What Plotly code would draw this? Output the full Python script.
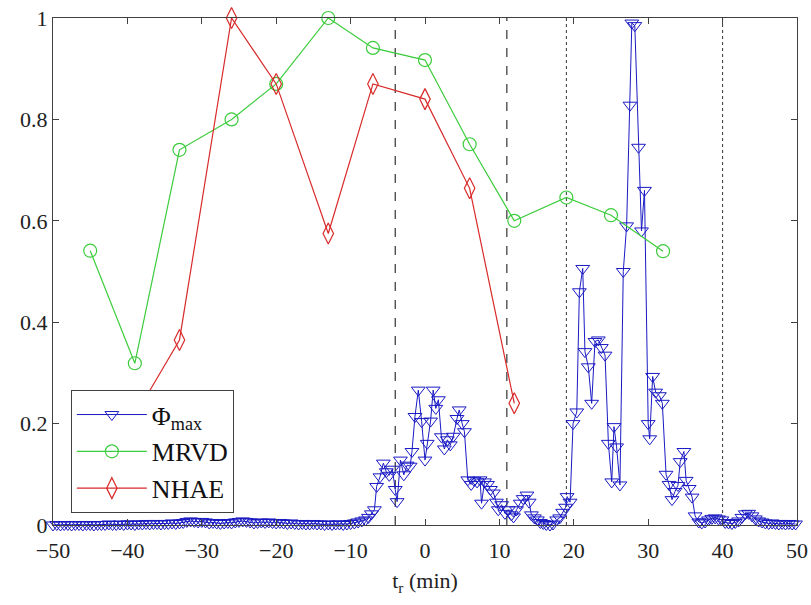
import numpy as np
import plotly.graph_objects as go

# ---------------- data ----------------
# Phi_max : uniform 0.5-min grid in the quiet lead-in, then read points
t_phi_left = np.arange(-50, -8.25, 0.5)
phi_left = [
    0.000, 0.001, 0.000, 0.001, 0.001, 0.000, 0.001, 0.001, 0.000, 0.001,
    0.001, 0.000, 0.001, 0.001, 0.001, 0.002, 0.001, 0.001, 0.002, 0.001,
    0.002, 0.002, 0.001, 0.002, 0.002, 0.003, 0.002, 0.003, 0.003, 0.002,
    0.003, 0.003, 0.004, 0.003, 0.004, 0.005, 0.007, 0.008, 0.007, 0.006,
    0.007, 0.006, 0.004, 0.005, 0.004, 0.003, 0.004, 0.005, 0.004, 0.006,
    0.007, 0.008, 0.007, 0.006, 0.004, 0.005, 0.006, 0.005, 0.006, 0.005,
    0.004, 0.005, 0.004, 0.003, 0.004, 0.003, 0.002, 0.003, 0.002, 0.002,
    0.003, 0.002, 0.002, 0.001, 0.002, 0.001, 0.002, 0.002, 0.001, 0.002,
    0.003, 0.004, 0.006, 0.008,
]
t_phi_mid = [
    -8.0, -7.6, -7.2, -6.8, -6.5, -6.05, -5.6, -5.2, -4.8, -4.4,
    -4.0, -3.75, -3.3, -2.85, -2.4, -2.0, -1.75, -1.35, -0.9, -0.45,
    0.0, 0.3, 0.75, 1.1, 1.45, 1.8, 2.2, 2.6, 3.0, 3.4,
    3.8, 4.3, 4.6, 5.0, 5.3, 5.75, 6.2, 6.6, 7.0, 7.4,
    7.6, 8.0, 8.4, 8.8, 9.2, 9.6, 9.85, 10.3, 10.75, 11.2,
    11.6, 11.9, 12.3, 12.8, 13.2, 13.7, 14.0, 14.3, 14.7, 15.1,
    15.5, 15.9, 16.3, 16.8, 17.2, 17.7, 18.1, 18.5, 18.9, 19.1,
    19.5, 19.9, 20.4, 20.75, 21.2, 21.5, 21.95, 22.4, 22.85, 23.3,
    23.7, 24.2, 24.65, 25.1, 25.4, 25.75, 26.2, 26.65, 27.1, 27.55,
    27.8, 28.2, 28.7, 29.1, 29.5, 30.0, 30.2, 30.6, 31.0, 31.5,
    31.9, 32.4, 32.8, 33.2, 33.6, 34.0, 34.3, 34.8, 35.1, 35.5,
    35.9, 36.3, 36.8,
]
phi_mid = [
    0.010, 0.015, 0.022, 0.030, 0.076, 0.095, 0.122, 0.105, 0.098, 0.110,
    0.070, 0.046, 0.128, 0.099, 0.118, 0.116, 0.145, 0.214, 0.266, 0.204,
    0.128, 0.161, 0.205, 0.266, 0.230, 0.247, 0.174, 0.150, 0.168, 0.158,
    0.175, 0.210, 0.227, 0.200, 0.184, 0.089, 0.080, 0.088, 0.085, 0.089,
    0.043, 0.085, 0.080, 0.070, 0.063, 0.045, 0.030, 0.040, 0.023, 0.030,
    0.020, 0.016, 0.030, 0.043, 0.052, 0.059, 0.045, 0.020, 0.014, 0.010,
    0.005, 0.003, 0.001, 0.000, 0.002, 0.010, 0.014, 0.025, 0.035, 0.056,
    0.045, 0.200, 0.223, 0.460, 0.506, 0.342, 0.312, 0.240, 0.362, 0.365,
    0.350, 0.335, 0.161, 0.085, 0.194, 0.154, 0.079, 0.500, 0.590, 0.828,
    0.990, 0.985, 0.745, 0.580, 0.660, 0.200, 0.170, 0.293, 0.262, 0.255,
    0.240, 0.100, 0.080, 0.050, 0.066, 0.078, 0.125, 0.145, 0.088, 0.072,
    0.055, 0.018, 0.006,
]
t_phi_right = [
    37.2, 37.65, 38.1, 38.55, 39.0, 39.45, 39.9, 40.35, 40.8, 41.25,
    41.7, 42.15, 42.6, 43.05, 43.5, 43.95, 44.4, 44.85, 45.3, 45.75,
    46.2, 46.65, 47.1, 47.55, 48.0, 48.45, 48.9, 49.35, 49.8,
]
phi_right = [
    0.004, 0.006, 0.010, 0.013, 0.014, 0.012, 0.010, 0.005, 0.004, 0.003,
    0.005, 0.008, 0.015, 0.022, 0.023, 0.018, 0.012, 0.008, 0.006, 0.004,
    0.003, 0.004, 0.003, 0.002, 0.003, 0.002, 0.003, 0.002, 0.002,
]

t_mrvd = [-45, -39, -33, -26, -20, -13, -7, 0, 6, 12, 19, 25, 32]
mrvd = [0.541, 0.319, 0.740, 0.800, 0.870, 1.000, 0.941, 0.917, 0.751, 0.600, 0.646, 0.611, 0.540]

t_nhae = [-39, -33, -26, -20, -13, -7, 0, 6, 12]
nhae = [0.215, 0.365, 1.000, 0.870, 0.575, 0.870, 0.840, 0.664, 0.240]

dashed_lines = [-4, 11]
dotted_lines = [19, 40]

x_ticks = [-50, -40, -30, -20, -10, 0, 10, 20, 30, 40, 50]
y_ticks = [0, 0.2, 0.4, 0.6, 0.8, 1]
y_ticktext = ["0", "0.2", "0.4", "0.6", "0.8", "1"]

# ---------------- figure ----------------
t_phi = list(t_phi_left) + t_phi_mid + t_phi_right
phi = list(phi_left) + phi_mid + phi_right

BLUE = "#1a1ac4"
GREEN = "#3ccc3c"
RED = "#d92a2a"

fig = go.Figure()
fig.add_trace(go.Scatter(
    x=t_phi, y=phi, mode="lines+markers", name="Φ<sub>max</sub>",
    line=dict(color=BLUE, width=1),
    marker=dict(symbol="triangle-down-open", size=12, color=BLUE, line=dict(width=1)),
    cliponaxis=False,
))
fig.add_trace(go.Scatter(
    x=t_mrvd, y=mrvd, mode="lines+markers", name="MRVD",
    line=dict(color=GREEN, width=1.2),
    marker=dict(symbol="circle-open", size=13, color=GREEN, line=dict(width=1.2)),
    cliponaxis=False,
))
fig.add_trace(go.Scatter(
    x=t_nhae, y=nhae, mode="lines+markers", name="NHAE",
    line=dict(color=RED, width=1.2),
    marker=dict(symbol="diamond-tall-open", size=15, color=RED, line=dict(width=1.2)),
    cliponaxis=False,
))

for xv in dashed_lines:
    fig.add_shape(type="line", xref="x", yref="paper", x0=xv, x1=xv, y0=0, y1=1,
                  line=dict(color="#333333", width=1.2, dash="dash"), layer="below")
for xv in dotted_lines:
    fig.add_shape(type="line", xref="x", yref="paper", x0=xv, x1=xv, y0=0, y1=1,
                  line=dict(color="#333333", width=1, dash="dot"), layer="below")

FONT = "Liberation Serif"
axis_common = dict(
    showline=True, linecolor="#404040", linewidth=1, mirror="ticks",
    ticks="inside", ticklen=6, tickcolor="#404040", showgrid=False, zeroline=False,
    tickfont=dict(family=FONT, size=22, color="#222222"), automargin=False,
    ticklabeloverflow="allow",
)
fig.update_xaxes(range=[-50, 50], tickvals=x_ticks, ticklabelstandoff=6,
                 title=dict(text="t<sub>r</sub> (min)", font=dict(family=FONT, size=22, color="#222222"),
                            standoff=10),
                 **axis_common)
fig.update_yaxes(range=[0, 1], tickvals=y_ticks, ticktext=y_ticktext, **axis_common)

fig.update_layout(
    width=811, height=605,
    margin=dict(l=53, r=14, t=18, b=80, autoexpand=False),
    paper_bgcolor="white", plot_bgcolor="white",
    font=dict(family=FONT, size=22, color="#222222"),
    showlegend=True,
    hovermode=False,
    legend=dict(x=0.024, y=0.266, xanchor="left", yanchor="top",
                bgcolor="white", bordercolor="#404040", borderwidth=1,
                font=dict(family=FONT, size=26, color="#111111"),
                tracegroupgap=0, itemwidth=70),
)

# remove the browser's default 8 px body margin so the 811x605 figure fills the window
fig.write_html("out.html",
               config={"displayModeBar": False},
               post_script="document.body.style.margin='0';document.body.style.overflow='hidden';")
